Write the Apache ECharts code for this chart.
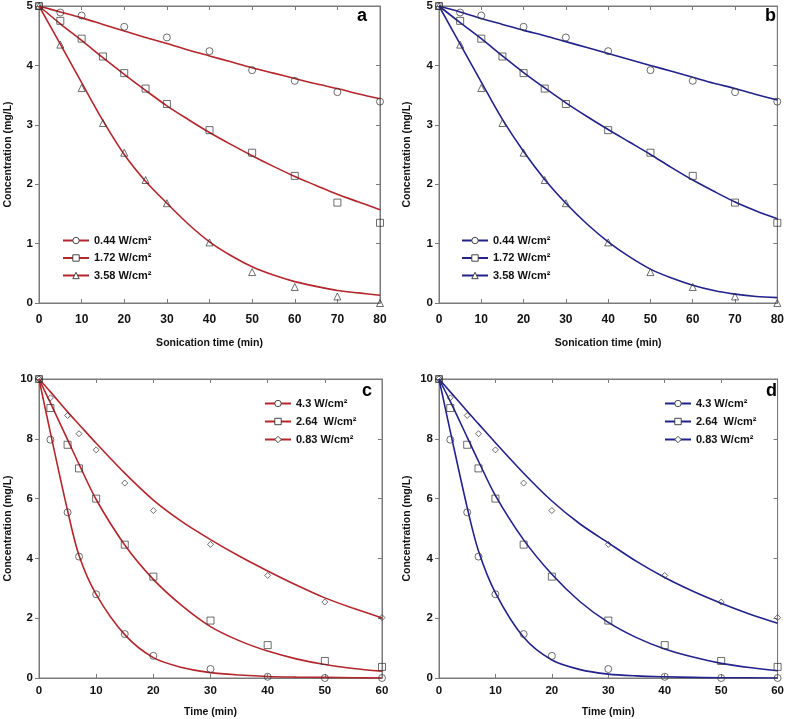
<!DOCTYPE html>
<html><head><meta charset="utf-8">
<script src="https://cdn.jsdelivr.net/npm/echarts@6/dist/echarts.min.js"></script>
<style>html,body{margin:0;padding:0;background:#fff}#c{width:787px;height:719px}</style>
</head><body><div id="c"></div>
<script>
// ---- Panels a & b : sonication time (min) vs concentration (mg/L)
const timeAB044 = [0,5,10,20,30,40,50,60,70,80];
const timeAB = [0,5,10,15,20,25,30,40,50,60,70,80];
const conc044 = [5,4.89,4.84,4.65,4.47,4.24,3.92,3.74,3.55,3.39];
const conc172 = [5,4.75,4.45,4.15,3.87,3.61,3.35,2.91,2.53,2.14,1.69,1.35];
const conc358 = [5,4.35,3.62,3.03,2.53,2.07,1.68,1.02,0.52,0.27,0.11,0.0];
const fitTimeAB = [0,5,10,15,20,25,30,35,40,45,50,55,60,65,70,75,80];
const fitA044 = [5,4.9,4.8,4.69,4.58,4.47,4.37,4.26,4.16,4.06,3.96,3.87,3.78,3.69,3.61,3.52,3.44];
const fitA172 = [5,4.70,4.42,4.13,3.85,3.58,3.32,3.09,2.87,2.67,2.48,2.30,2.13,1.98,1.83,1.70,1.57];
const fitA358 = [5,4.36,3.71,3.07,2.50,2.05,1.68,1.33,1.03,0.80,0.61,0.47,0.36,0.28,0.21,0.17,0.13];
const fitB044 = [5,4.9,4.79,4.69,4.59,4.5,4.4,4.3,4.2,4.1,4.0,3.9,3.8,3.7,3.61,3.51,3.42];
const fitB172 = [5,4.72,4.45,4.16,3.88,3.62,3.37,3.14,2.92,2.71,2.50,2.28,2.07,1.88,1.70,1.55,1.42];
const fitB358 = [5,4.36,3.72,3.09,2.55,2.08,1.68,1.33,1.03,0.78,0.57,0.42,0.30,0.21,0.15,0.11,0.09];
const legendAB = ['0.44 W/cm\u00B2','1.72 W/cm\u00B2','3.58 W/cm\u00B2'];

// ---- Panels c & d : time (min) vs concentration (mg/L)
const timeCD = [0,2,5,7,10,15,20,30,40,50,60];
const conc43 = [10,7.97,5.54,4.06,2.8,1.47,0.74,0.3,0.04,0,0];
const conc264 = [10,9.03,7.8,7.01,6.0,4.46,3.39,1.92,1.1,0.57,0.37];
const conc083 = [10,9.37,8.78,8.17,7.63,6.52,5.6,4.47,3.43,2.54,2.02];
const fitTimeCD = [0,2,5,7,10,15,20,25,30,35,40,45,50,55,60];
const fitC43 = [10,8.2,5.6,4.1,2.8,1.45,0.68,0.35,0.18,0.1,0.05,0.03,0.02,0.01,0.0];
const fitC264 = [10,9.2,7.97,7.15,5.97,4.45,3.3,2.42,1.72,1.25,0.9,0.64,0.45,0.32,0.23];
const fitC083 = [10,9.57,8.9,8.48,7.85,6.85,5.95,5.23,4.63,4.08,3.58,3.11,2.68,2.33,2.01];
const fitD43 = [10,8.25,5.7,4.25,2.85,1.36,0.6,0.28,0.13,0.07,0.04,0.02,0.01,0.01,0];
const fitD264 = [10,9.25,8.05,7.25,6.1,4.62,3.47,2.55,1.86,1.35,0.97,0.7,0.49,0.35,0.24];
const fitD083 = [10,9.57,8.92,8.5,7.87,6.85,5.92,5.15,4.52,3.9,3.36,2.9,2.5,2.14,1.83];
const legendCD = ['4.3 W/cm\u00B2','2.64  W/cm\u00B2','0.83 W/cm\u00B2'];

const RED = '#b3262c', BLUE = '#22228c', MARK = '#333333', FRAME = '#7a7a7a';
const FONT = 'Liberation Sans, Arial, sans-serif';

function zip(xs, ys){ return xs.map((x,i)=>[x, ys[i]]); }

const grids = [
  {left:39, top:5, width:341, height:298},
  {left:439, top:5, width:341, height:298},
  {left:39, top:379, width:343, height:300},
  {left:439, top:379, width:342, height:300}
];
const xCfg = [
  {max:80, name:'Sonication time (min)', gap:35, margin:11, fs:12},
  {max:80, name:'Sonication time (min)', gap:35, margin:11, fs:12},
  {max:60, name:'Time (min)', gap:29, margin:7, fs:11.5},
  {max:60, name:'Time (min)', gap:29, margin:7, fs:11.5}
];
const yCfg = [{max:5,interval:1},{max:5,interval:1},{max:10,interval:2},{max:10,interval:2}];

function lab(fs, margin){ return {fontFamily:FONT, fontWeight:'bold', fontSize:fs, color:'#111', margin:margin}; }
const xAxis = [], yAxis = [];
grids.forEach((g,i)=>{
  xAxis.push({type:'value', gridIndex:i, min:0, max:xCfg[i].max, interval:10, position:'bottom',
    name:xCfg[i].name, nameLocation:'middle', nameGap:xCfg[i].gap,
    nameTextStyle:{fontFamily:FONT, fontWeight:'bold', fontSize:10.5, color:'#111'},
    axisLine:{show:true, onZero:false, lineStyle:{color:FRAME, width:1}},
    axisTick:{show:true, inside:true, length:4, lineStyle:{color:FRAME}},
    axisLabel:lab(xCfg[i].fs, xCfg[i].margin),
    splitLine:{show:false}});
  xAxis.push({type:'value', gridIndex:i, min:0, max:xCfg[i].max, interval:10, position:'top',
    axisLine:{show:true, onZero:false, lineStyle:{color:FRAME, width:1}},
    axisTick:{show:true, inside:true, length:4, lineStyle:{color:FRAME}},
    axisLabel:{show:false}, splitLine:{show:false}});
  yAxis.push({type:'value', gridIndex:i, min:0, max:yCfg[i].max, interval:yCfg[i].interval, position:'left',
    name:'Concentration (mg/L)', nameLocation:'middle', nameGap:i%2? 26:25, nameRotate:90,
    nameTextStyle:{fontFamily:FONT, fontWeight:'bold', fontSize:10.5, color:'#111'},
    axisLine:{show:true, onZero:false, lineStyle:{color:FRAME, width:1}},
    axisTick:{show:true, inside:false, length:4, lineStyle:{color:FRAME}},
    axisLabel:lab(11.5, 6),
    splitLine:{show:false}});
  yAxis.push({type:'value', gridIndex:i, min:0, max:yCfg[i].max, interval:yCfg[i].interval, position:'right',
    axisLine:{show:true, onZero:false, lineStyle:{color:FRAME, width:1}},
    axisTick:{show:true, inside:true, length:4, lineStyle:{color:FRAME}},
    axisLabel:{show:false}, splitLine:{show:false}});
});

const series = [];
const nameMap = {};
function addPanel(i, color, fitX, fits, ptsX, pts, symbols, labels){
  const names = [];
  fits.forEach((f,k)=>{
    const nm = 'p'+i+'_'+k; nameMap[nm] = labels[k]; names.push(nm);
    series.push({type:'line', name:nm, xAxisIndex:2*i, yAxisIndex:2*i, data:zip(fitX, f),
      smooth:0.3, showSymbol:false, symbol:symbols[k], symbolSize:7,
      lineStyle:{color:color, width:1.6}, itemStyle:{color:color}, silent:true, z:2});
  });
  pts.forEach((p,k)=>{
    series.push({type:'scatter', name:'pts'+i+'_'+k, xAxisIndex:2*i, yAxisIndex:2*i,
      data:zip(ptsX[k], p), symbol:symbols[k],
      symbolSize: symbols[k]==='diamond'?6:7,
      itemStyle:{color:'rgba(255,255,255,0)', borderColor:MARK, borderWidth:0.9}, silent:true, z:3});
  });
  return names;
}
const symAB = ['circle','rect','triangle'];
const symCD = ['circle','rect','diamond'];
const nA = addPanel(0, RED, fitTimeAB, [fitA044, fitA172, fitA358], [timeAB044, timeAB, timeAB], [conc044, conc172, conc358], symAB, legendAB);
const nB = addPanel(1, BLUE, fitTimeAB, [fitB044, fitB172, fitB358], [timeAB044, timeAB, timeAB], [conc044, conc172, conc358], symAB, legendAB);
const nC = addPanel(2, RED, fitTimeCD, [fitC43, fitC264, fitC083], [timeCD, timeCD, timeCD], [conc43, conc264, conc083], symCD, legendCD);
const nD = addPanel(3, BLUE, fitTimeCD, [fitD43, fitD264, fitD083], [timeCD, timeCD, timeCD], [conc43, conc264, conc083], symCD, legendCD);

function mkLegend(names, left, top, gap){
  return {data:names, orient:'vertical', left:left, top:top, padding:0, itemWidth:26, itemHeight:8, itemGap:gap,
    selectedMode:false, formatter:n=>nameMap[n],
    itemStyle:{color:'#fff', borderColor:MARK, borderWidth:0.9},
    textStyle:{fontFamily:FONT, fontWeight:'bold', fontSize:11, color:'#111'}};
}

const letters = [['a',357,16],['b',765,16],['c',362,391],['d',766,391]];

const chart = echarts.init(document.getElementById('c'), null, {renderer:'canvas'});
chart.setOption({
  animation:false,
  backgroundColor:'#fff',
  grid: grids.map(g=>Object.assign({show:true, borderColor:FRAME, borderWidth:1, backgroundColor:'transparent'}, g)),
  xAxis, yAxis, series,
  legend:[mkLegend(nA,62,235,6.5), mkLegend(nB,461,235,6.5), mkLegend(nC,264,398,7), mkLegend(nD,664,398,7)],
  graphic: letters.map(l=>({type:'text', x:l[1], y:l[2], style:{text:l[0], fill:'#000',
    font:'bold 18px '+FONT, verticalAlign:'middle', align:'left'}}))
});
</script></body></html>
